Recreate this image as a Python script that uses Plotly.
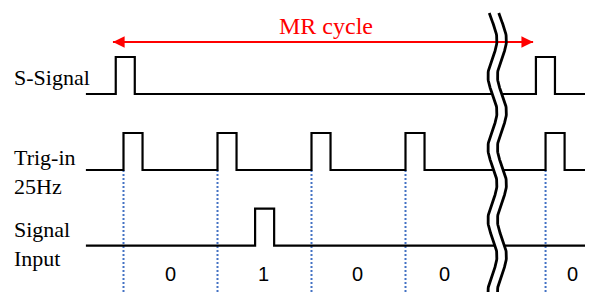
import numpy as np
import plotly.graph_objects as go

# ---------------- data (time in ms, display axis with a break) ----------------
channel_names = ["S-Signal", "Trig-in<br>25Hz", "Signal<br>Input"]
s_signal_rises = [-3.3, 175.5]
trig_rises = [0, 40, 80, 120, 179.6]
input_rises = [56]
pulse_width_ms = 8.1
trace_start, trace_end = -16.0, 199.4
bit_labels = ["0", "1", "0", "0", "0"]
bit_positions = [20, 59.5, 99.5, 136.8, 191]
mr_cycle_span = [-4.5, 174.3]
mr_cycle_label = "MR cycle"
break_at = 157.0

# ---------------- layout constants ----------------
W, H = 593, 292
OFF = 8                       # page body margin
PX_PER_MS = 2.35
X0_PX = 123.5                 # page px of t = 0
xr = [(OFF - X0_PX) / PX_PER_MS, (W + OFF - X0_PX) / PX_PER_MS]
baselines = [94, 170, 245.7]  # page px from top
amp = 37
serif = "Liberation Serif, Times New Roman, serif"
sans = "Liberation Sans, Arial, sans-serif"

def wave(rises, base):
    xs, ys = [trace_start], [base]
    for r in rises:
        xs += [r, r, r + pulse_width_ms, r + pulse_width_ms]
        ys += [base, base - amp, base - amp, base]
    xs.append(trace_end)
    ys.append(base)
    return xs, ys

fig = go.Figure()

# dotted guide lines at trigger rising edges
for r in trig_rises:
    fig.add_trace(go.Scatter(x=[r, r], y=[baselines[1], H + 2], mode="lines",
                             line=dict(color="#4472C4", width=2, dash="2px,2px"),
                             hoverinfo="skip", showlegend=False))

for rises, base in zip([s_signal_rises, trig_rises, input_rises], baselines):
    xs, ys = wave(rises, base)
    fig.add_trace(go.Scatter(x=xs, y=ys, mode="lines",
                             line=dict(color="black", width=2.2),
                             hoverinfo="skip", showlegend=False))

# break symbol (white gap + two wavy lines)
yy = np.linspace(13, H + 2, 200)
a_ms = 4.5 / PX_PER_MS
gap_ms = 9.5 / PX_PER_MS
xl = break_at + a_ms * np.sin(2 * np.pi * (yy - 22) / 72)
xrr = xl + gap_ms
fig.add_trace(go.Scatter(x=np.concatenate([xl, xrr[::-1]]),
                         y=np.concatenate([yy, yy[::-1]]),
                         fill="toself", fillcolor="white", mode="lines",
                         line=dict(width=0, color="white"),
                         hoverinfo="skip", showlegend=False))

# MR cycle arrow
ay = 42
fig.add_trace(go.Scatter(x=mr_cycle_span, y=[ay, ay], mode="lines",
                         line=dict(color="red", width=1.8),
                         hoverinfo="skip", showlegend=False))
for tip, tail in [(mr_cycle_span[0], mr_cycle_span[0] + 5),
                  (mr_cycle_span[1], mr_cycle_span[1] - 5)]:
    fig.add_annotation(x=tip, y=ay, ax=tail, ay=ay, xref="x", yref="y",
                       axref="x", ayref="y", text="", showarrow=True,
                       arrowhead=2, arrowsize=1.3, arrowwidth=1.8,
                       arrowcolor="red")

for xs in (xl, xrr):
    fig.add_trace(go.Scatter(x=xs, y=yy, mode="lines",
                             line=dict(color="black", width=2.8),
                             hoverinfo="skip", showlegend=False))

fig.add_annotation(x=86.2, y=26, text=mr_cycle_label,
                   showarrow=False, xref="x", yref="y",
                   font=dict(family=serif, size=24, color="red"))

for name, base in zip(channel_names, [77, 172, 244]):
    fig.add_annotation(x=(12 - OFF) / W, y=base, xref="paper", yref="y", text=name,
                       showarrow=False, xanchor="left", yanchor="middle",
                       align="left",
                       font=dict(family=serif, size=22, color="black"))

for lab, pos in zip(bit_labels, bit_positions):
    fig.add_annotation(x=pos, y=274, text=lab, showarrow=False,
                       xref="x", yref="y",
                       font=dict(family=sans, size=20, color="black"))

fig.update_layout(width=W, height=H, margin=dict(l=0, r=0, t=0, b=0),
                  paper_bgcolor="white", plot_bgcolor="white",
                  xaxis=dict(range=xr, visible=False, fixedrange=True),
                  yaxis=dict(range=[H + OFF, OFF], visible=False, fixedrange=True))

fig.write_html("out.html")
